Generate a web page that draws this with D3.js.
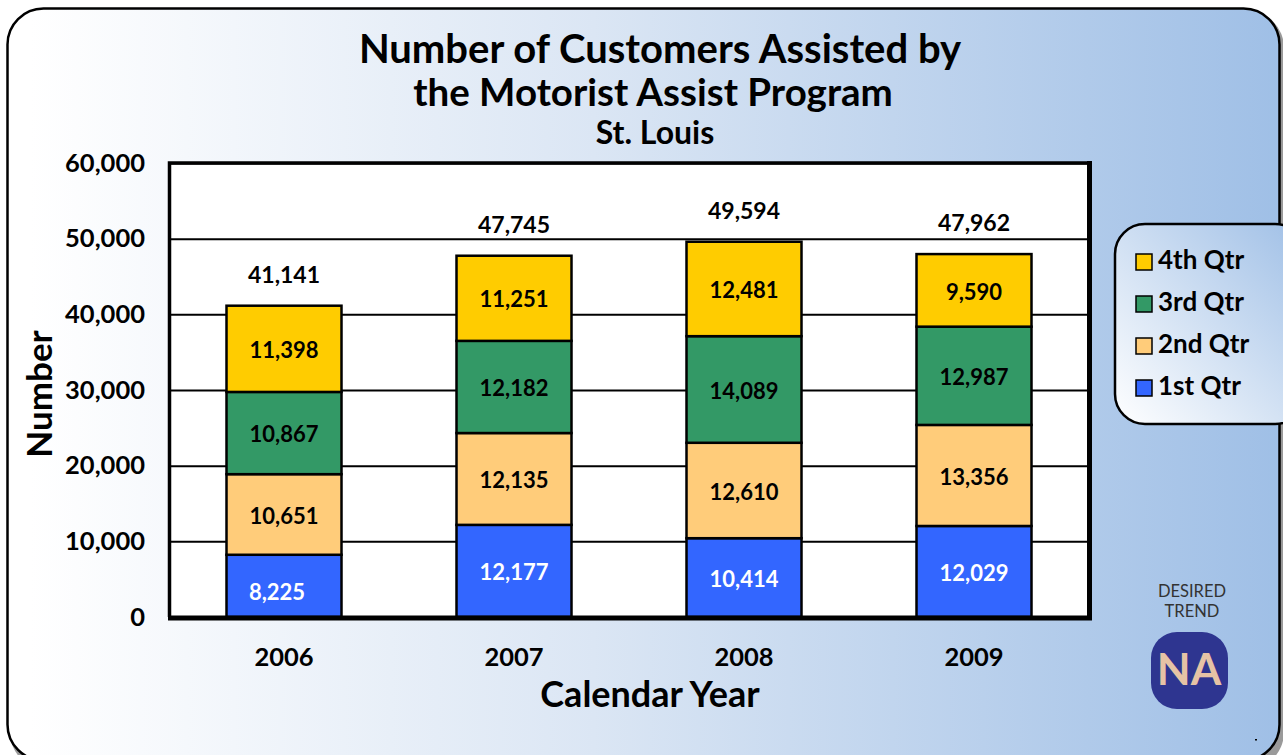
<!DOCTYPE html>
<html><head><meta charset="utf-8">
<script src="https://cdn.jsdelivr.net/npm/d3@7"></script>
<style>html,body{margin:0;padding:0;background:#fff;overflow:hidden}svg{display:block}text{font-family:Lato,sans-serif;font-weight:700;fill:#000}</style>
</head><body><div id="c"></div>
<script>
const years=["2006","2007","2008","2009"];
const q1=[8225,12177,10414,12029];
const q2=[10651,12135,12610,13356];
const q3=[10867,12182,14089,12987];
const q4=[11398,11251,12481,9590];
const totals=[41141,47745,49594,47962];
const seriesNames=["1st Qtr","2nd Qtr","3rd Qtr","4th Qtr"];
const seriesColors=["#3366ff","#ffcc7a","#339966","#ffcc00"];
const labelColors=["#fff","#000","#000","#000"];
const yTicks=[0,10000,20000,30000,40000,50000,60000];
const titleLines=["Number of Customers Assisted by","the Motorist Assist Program"];
const subtitle="St. Louis";

const W=1283,H=755;
const svg=d3.select("#c").append("svg").attr("width",W).attr("height",H);
const defs=svg.append("defs");
const g1=defs.append("linearGradient").attr("id","bg").attr("gradientUnits","userSpaceOnUse").attr("x1",30).attr("x2",1283).attr("y1",0).attr("y2",0);
g1.append("stop").attr("offset",0).attr("stop-color","#ffffff");
g1.append("stop").attr("offset",0.45).attr("stop-color","#dbe6f4");
g1.append("stop").attr("offset",1).attr("stop-color","#9fbfe6");
const g2=defs.append("linearGradient").attr("id","lg").attr("x1",0).attr("y1",1).attr("x2",1).attr("y2",0);
g2.append("stop").attr("offset",0).attr("stop-color","#ffffff");
g2.append("stop").attr("offset",1).attr("stop-color","#9fbfe6");

// panel
svg.append("rect").attr("x",10).attr("y",10).attr("width",1274).attr("height",760).attr("rx",38).attr("fill","#9a9a9a");
svg.append("rect").attr("x",7.5).attr("y",8.5).attr("width",1272).attr("height",752).attr("rx",36).attr("fill","url(#bg)").attr("stroke","#000").attr("stroke-width",2.5);

const x=d3.scaleBand().domain(years).range([169,1089]).paddingInner(0.5).paddingOuter(0.25);
const y=d3.scaleLinear().domain([0,60000]).range([617,163]);

// plot area
svg.append("rect").attr("x",x.range()[0]).attr("y",y(60000)).attr("width",920).attr("height",y(0)-y(60000)).attr("fill","#fff");

// y axis + grid
const ay=svg.append("g").attr("transform","translate(169,0)").call(d3.axisLeft(y).tickValues(yTicks).tickFormat(d3.format(",")).tickSize(-920).tickPadding(24));
ay.select(".domain").remove();
ay.selectAll("line").attr("stroke","#000").attr("stroke-width",2);
ay.selectAll("text").attr("font-size",25.5);

// stacks
const rows=years.map((yr,i)=>({year:yr,q1:q1[i],q2:q2[i],q3:q3[i],q4:q4[i]}));
const keys=["q1","q2","q3","q4"];
const stack=d3.stack().keys(keys)(rows);
const gs=svg.append("g").selectAll("g").data(stack).join("g");
gs.each(function(s,si){
  const g=d3.select(this);
  g.selectAll("rect").data(s).join("rect")
    .attr("x",d=>x(d.data.year)).attr("width",x.bandwidth())
    .attr("y",d=>y(d[1])).attr("height",d=>y(d[0])-y(d[1]))
    .attr("fill",seriesColors[si]).attr("stroke","#000").attr("stroke-width",2.5);
});
gs.each(function(s,si){
  d3.select(this).selectAll("text").data(s).join("text")
    .attr("x",d=>x(d.data.year)+x.bandwidth()/2+(d[1]===8225?-7:0))
    .attr("y",d=>(y(d[0])+y(d[1]))/2+1.5+(d[1]===8225?5:0)).attr("dy","0.35em")
    .attr("text-anchor","middle").attr("font-size",22)
    .style("fill",labelColors[si]).text(d=>d3.format(",")(d.data[keys[si]]));
});
// totals
svg.append("g").selectAll("text").data(totals).join("text")
  .attr("x",(d,i)=>x(years[i])+x.bandwidth()/2).attr("y",d=>y(d)-31).attr("dy","0.35em")
  .attr("text-anchor","middle").attr("font-size",23).text(d3.format(","));

// plot frame
svg.append("path").attr("d",`M169.5,617 V163 H1089`).attr("fill","none").attr("stroke","#000").attr("stroke-width",3.5);
svg.append("path").attr("d",`M168,618 H1089.5 V161`).attr("fill","none").attr("stroke","#000").attr("stroke-width",5);

// x axis
const ax=svg.append("g").attr("transform","translate(0,617)").call(d3.axisBottom(x).tickSize(0).tickPadding(31));
ax.select(".domain").remove();
ax.selectAll("text").attr("font-size",25.5);

// titles
svg.append("g").selectAll("text").data(titleLines).join("text")
  .attr("x",(d,i)=>i?653:660).attr("y",(d,i)=>63+i*43).attr("text-anchor","middle").attr("font-size",(d,i)=>i?38.5:40).text(d=>d);
svg.append("text").attr("x",655).attr("y",144).attr("text-anchor","middle").attr("font-size",32).text(subtitle);
svg.append("text").attr("x",650).attr("y",707).attr("text-anchor","middle").attr("font-size",36).text("Calendar Year");
svg.append("text").attr("transform","translate(52,394) rotate(-90)").attr("text-anchor","middle").attr("font-size",35).text("Number");

// legend
svg.append("rect").attr("x",1115).attr("y",224).attr("width",190).attr("height",200).attr("rx",30).attr("fill","url(#lg)").attr("stroke","#000").attr("stroke-width",2.5);
const leg=svg.append("g").selectAll("g").data(seriesNames).join("g")
  .attr("transform",(d,i)=>`translate(1136,${387-i*42})`);
leg.append("rect").attr("x",0).attr("y",-7).attr("width",16).attr("height",16).attr("fill",(d,i)=>seriesColors[i]).attr("stroke","#000").attr("stroke-width",1.5);
leg.append("text").attr("x",22).attr("y",-1).attr("dy","0.35em").attr("font-size",26).text(d=>d);

// desired trend
svg.append("text").attr("x",1192).attr("y",597).attr("text-anchor","middle").attr("font-size",16.5).style("font-weight",400).style("fill","#333").text("DESIRED");
svg.append("text").attr("x",1192).attr("y",617).attr("text-anchor","middle").attr("font-size",16.5).style("font-weight",400).style("fill","#333").text("TREND");
svg.append("rect").attr("x",1151).attr("y",632).attr("width",77).attr("height",77).attr("rx",26).attr("fill","#2e3590");
svg.append("text").attr("x",1189).attr("y",685).attr("text-anchor","middle").attr("font-size",44).style("fill","#e6c3a5").text("NA");
svg.append("rect").attr("x",1255).attr("y",739).attr("width",2).attr("height",1.5).attr("fill","#000");
</script></body></html>
